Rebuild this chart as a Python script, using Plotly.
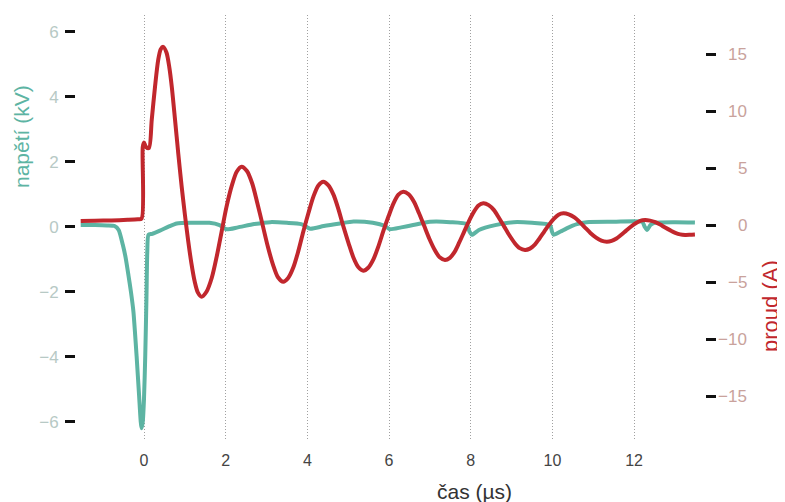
import plotly.graph_objects as go

# ---- data ----
time_v = [-1.55, -1.2, -0.9, -0.72, -0.62, -0.52, -0.45, -0.38, -0.32, -0.26, -0.18, -0.12,
          -0.08, -0.06, -0.03, 0.0, 0.03, 0.06, 0.08, 0.11, 0.2, 0.39, 0.6, 0.8, 1.2, 1.6,
          1.85, 2.02, 2.3, 2.7, 3.09, 3.5, 3.85, 4.07, 4.4, 4.8, 5.13, 5.6, 5.9, 6.02, 6.3,
          6.59, 7.0, 7.5, 7.9, 7.97, 8.03, 8.2, 8.6, 9.05, 9.5, 9.94, 9.99, 10.03, 10.2,
          10.35, 10.6, 10.84, 11.5, 12.2, 12.26, 12.32, 12.4, 12.5, 13.0, 13.49]
voltage = [0.05, 0.05, 0.04, 0.02, -0.1, -0.55, -0.95, -1.5, -2.0, -2.6, -4.0, -5.2,
           -6.0, -6.2, -6.0, -5.3, -4.0, -2.2, -0.8, -0.25, -0.22, -0.12, 0.0, 0.1, 0.12, 0.12,
           0.05, -0.08, -0.02, 0.08, 0.14, 0.12, 0.08, -0.06, 0.02, 0.1, 0.16, 0.12, 0.02, -0.08, -0.02,
           0.05, 0.15, 0.14, 0.08, -0.15, -0.25, -0.1, 0.05, 0.14, 0.12, 0.05, -0.15, -0.25, -0.15,
           -0.05, 0.08, 0.14, 0.15, 0.15, 0.0, -0.1, 0.05, 0.12, 0.14, 0.13]

time_i = [-1.55, -1.2, -0.8, -0.4, -0.15, -0.06, -0.03, 0.0, 0.05, 0.12, 0.19, 0.27, 0.35, 0.41, 0.47,
          0.55, 0.62, 0.68, 0.76, 0.84, 0.92, 1.0, 1.08, 1.16, 1.24, 1.32, 1.41,
          1.53, 1.66, 1.78, 1.90, 2.02, 2.15, 2.27, 2.39,
          2.52, 2.65, 2.77, 2.90, 3.03, 3.16, 3.28, 3.41,
          3.53, 3.66, 3.78, 3.90, 4.03, 4.15, 4.27, 4.39,
          4.51, 4.64, 4.76, 4.88, 5.01, 5.13, 5.25, 5.37,
          5.49, 5.62, 5.74, 5.86, 5.99, 6.11, 6.23, 6.35,
          6.48, 6.61, 6.73, 6.86, 6.99, 7.12, 7.24, 7.37,
          7.49, 7.61, 7.72, 7.84, 7.96, 8.08, 8.19, 8.31,
          8.44, 8.57, 8.69, 8.82, 8.95, 9.08, 9.20, 9.33,
          9.45, 9.57, 9.68, 9.80, 9.92, 10.04, 10.15, 10.27,
          10.40, 10.54, 10.67, 10.80, 10.93, 11.07, 11.20, 11.33,
          11.45, 11.57, 11.68, 11.80, 11.92, 12.04, 12.15, 12.27,
          12.39, 12.52, 12.64, 12.76, 12.89, 13.01, 13.13, 13.25, 13.37, 13.49]
current = [0.40, 0.42, 0.45, 0.50, 0.55, 0.6, 6.9, 7.3, 6.9, 6.8, 9.3, 12.2, 14.6, 15.5, 15.7,
           15.2, 13.9, 12.2, 9.3, 6.3, 3.5, 1.0, -1.3, -3.3, -4.9, -5.9, -6.26,
           -5.82, -4.59, -2.73, -0.55, 1.64, 3.50, 4.73, 5.17,
           4.79, 3.69, 2.05, 0.12, -1.82, -3.46, -4.55, -4.94,
           -4.61, -3.65, -2.23, -0.55, 1.14, 2.56, 3.52, 3.85,
           3.55, 2.71, 1.44, -0.06, -1.56, -2.83, -3.67, -3.97,
           -3.71, -2.95, -1.83, -0.50, 0.83, 1.95, 2.71, 2.97,
           2.74, 2.09, 1.12, -0.03, -1.18, -2.15, -2.80, -3.03,
           -2.84, -2.30, -1.49, -0.54, 0.41, 1.22, 1.76, 1.95,
           1.79, 1.35, 0.68, -0.10, -0.88, -1.55, -1.99, -2.15,
           -2.03, -1.68, -1.16, -0.54, 0.08, 0.60, 0.95, 1.07,
           0.98, 0.71, 0.30, -0.18, -0.65, -1.06, -1.33, -1.42,
           -1.35, -1.14, -0.83, -0.47, -0.11, 0.20, 0.41, 0.48,
           0.43, 0.29, 0.08, -0.18, -0.43, -0.64, -0.78, -0.83, -0.82, -0.80]

x_ticks = [0, 2, 4, 6, 8, 10, 12]
v_ticks = [-6, -4, -2, 0, 2, 4, 6]
i_ticks = [-15, -10, -5, 0, 5, 10, 15]
i_tick_labels = ["\u221215", "\u221210", "\u22125", "0", "5", "10", "15"]

TEAL = "#5db4a3"
RED = "#c1272d"
FONT = "Liberation Sans, Arial, sans-serif"

# the page body adds an 8px offset; figure is sized to fit the window
OFF = 8
W, H = 785 - OFF, 502 - OFF
# paper area (where the y axes sit), in figure pixels
PL, PR = 75 - OFF, 705 - OFF
PT, PB = 15 - OFF, 440 - OFF
PW, PH = PR - PL, PB - PT
# plot area x extent (page pixels 80..699)
DX0 = (80 - OFF - PL) / PW
DX1 = (699 - OFF - PL) / PW


def px_x(page_x):
    return (page_x - OFF - PL) / PW


def px_y(page_y):
    return (PB - (page_y - OFF)) / PH


fig = go.Figure()
fig.add_trace(go.Scatter(x=time_v, y=voltage, mode="lines",
                         line=dict(color=TEAL, width=4, shape="spline", smoothing=0.6),
                         yaxis="y", showlegend=False))
fig.add_trace(go.Scatter(x=time_i, y=current, mode="lines",
                         line=dict(color=RED, width=4, shape="spline", smoothing=0.8),
                         yaxis="y2", showlegend=False))

annotations = []
for v, t in zip(i_ticks, i_tick_labels):
    annotations.append(dict(x=px_x(749), y=v, xref="paper", yref="y2", text=t,
                            showarrow=False, xanchor="right", yanchor="middle",
                            font=dict(family=FONT, size=17, color="#c9a29c")))
annotations.append(dict(x=px_x(22), y=px_y(136), xref="paper", yref="paper",
                        text="napětí (kV)", textangle=-90, showarrow=False,
                        xanchor="center", yanchor="middle",
                        font=dict(family=FONT, size=21, color=TEAL)))
annotations.append(dict(x=px_x(770), y=px_y(306), xref="paper", yref="paper",
                        text="proud (A)", textangle=-90, showarrow=False,
                        xanchor="center", yanchor="middle",
                        font=dict(family=FONT, size=22, color=RED)))
annotations.append(dict(x=px_x(474), y=px_y(491), xref="paper", yref="paper",
                        text="čas (µs)", showarrow=False,
                        xanchor="center", yanchor="middle",
                        font=dict(family=FONT, size=21, color="#333333")))

fig.update_layout(
    width=W, height=H,
    margin=dict(l=PL, r=W - PR, t=PT, b=H - PB, pad=0),
    paper_bgcolor="white", plot_bgcolor="white",
    font=dict(family=FONT),
    xaxis=dict(domain=[DX0, DX1], range=[-1.567, 13.59], tickvals=x_ticks, showgrid=True,
               gridcolor="#a0a0a0", griddash="1px,2px", gridwidth=1, automargin=False,
               zeroline=False, showline=False, ticks="", ticklabelstandoff=9,
               tickfont=dict(size=16, color="#444444")),
    yaxis=dict(range=[-6.563, 6.514], tickvals=v_ticks, showgrid=False, zeroline=False,
               showline=False, ticks="outside", ticklen=10, tickwidth=3, tickcolor="#111111",
               anchor="free", position=0, ticklabelstandoff=3, automargin=False,
               tickfont=dict(size=17, color="#b7c9c5")),
    yaxis2=dict(range=[-18.85, 18.5], tickvals=i_ticks, showgrid=False, zeroline=False,
                showline=False, ticks="outside", ticklen=10, tickwidth=3, tickcolor="#111111",
                overlaying="y", side="right", anchor="free", position=1, automargin=False,
                showticklabels=False),
    annotations=annotations,
)

fig.write_html("out.html")
